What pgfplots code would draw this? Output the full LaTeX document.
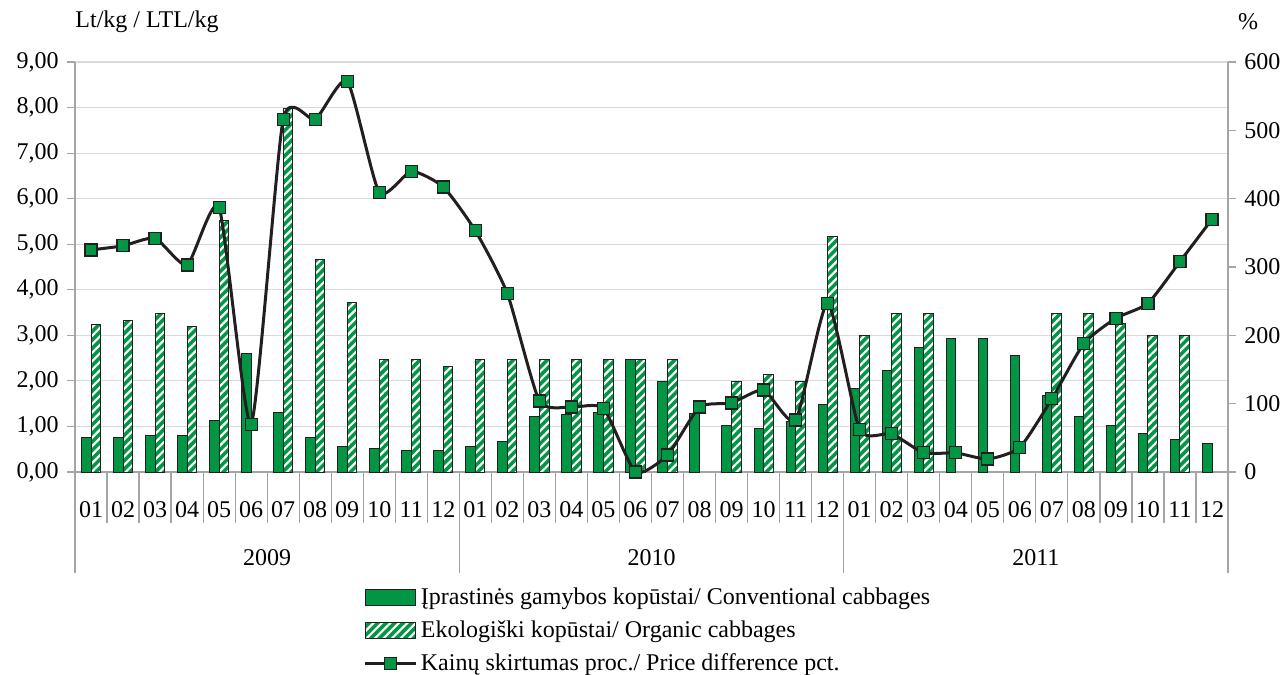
\documentclass[12pt,border=0pt]{standalone}
\usepackage{fontspec}
\setmainfont{Liberation Serif}
\usepackage{pgfplots}
\pgfplotsset{compat=1.18}
\usetikzlibrary{patterns.meta}

\definecolor{cgreen}{RGB}{0,150,68}
\definecolor{cdark}{RGB}{35,31,32}
\definecolor{caxis}{RGB}{165,165,165}
\definecolor{cgrid}{RGB}{217,217,217}

\pgfplotsset{
  barlegend/.style={legend image code/.code={\draw[##1] (0pt,-4pt) rectangle (25pt,4pt);}},
  linelegend/.style={legend image code/.code={\draw[##1,mark repeat=2,mark phase=2] plot coordinates {(0pt,0pt) (12.5pt,0pt) (25pt,0pt)};}},
  stripes/.style={fill=cgreen, draw=cdark, line width=0.5pt,
    postaction={pattern={Lines[angle=45,distance=3pt,line width=1.1pt]}, pattern color=white}},
  common/.style={at={(37.5pt,101pt)}, anchor=south west, scale only axis,
    width=576.5pt, height=205pt, xmin=-0.5, xmax=35.5,
    axis line style={caxis, line width=0.6pt},
    tick align=outside, major tick length=4pt,
    yticklabel style={/pgf/number format/assume math mode=true}},
}

% conventional cabbages, Lt/kg
\pgfplotstableread{
x y
0 0.76
1 0.76
2 0.80
3 0.80
4 1.14
5 2.61
6 1.31
7 0.76
8 0.55
9 0.51
10 0.47
11 0.47
12 0.55
13 0.67
14 1.22
15 1.27
16 1.31
17 2.48
18 1.99
19 1.28
20 1.02
21 0.96
22 1.10
23 1.48
24 1.84
25 2.23
26 2.73
27 2.94
28 2.94
29 2.56
30 1.68
31 1.22
32 1.02
33 0.84
34 0.72
35 0.63
}\conv

% organic cabbages, Lt/kg
\pgfplotstableread{
x y
0 3.24
1 3.32
2 3.49
3 3.20
4 5.51
6 7.98
7 4.67
8 3.71
9 2.48
10 2.48
11 2.32
12 2.48
13 2.48
14 2.48
15 2.48
16 2.48
17 2.48
18 2.48
20 1.98
21 2.15
22 1.98
23 5.16
24 2.99
25 3.48
26 3.48
30 3.48
31 3.48
32 3.27
33 2.99
34 2.99
}\org

% price difference, pct.
\pgfplotstableread{
x y
0 325
1 331
2 342
3 303
4 387
5 70
6 516
7 516
8 572
9 409
10 440
11 417
12 353
13 261
14 104
15 95
16 93
17 0
18 25
19 95
20 101
21 120
22 76
23 247
24 62
25 56
26 28
27 28
28 19
29 36
30 107
31 188
32 225
33 247
34 308
35 370
}\diff

\begin{document}
\begin{tikzpicture}
\useasboundingbox (0,0) rectangle (644pt,337pt);

\begin{axis}[common,
  clip mode=individual,
  ymin=0, ymax=9,
  ybar=0pt, bar width=4.8pt,
  axis x line*=bottom, axis y line*=left,
  ytick={0,1,...,9},
  ymajorgrids, grid style={cgrid, line width=0.6pt},
  y tick style={caxis, line width=0.6pt},
  yticklabel style={/pgf/number format/.cd, fixed, fixed zerofill, precision=2, use comma, /tikz/.cd},
  xtick={0,...,35},
  xticklabels={01,02,03,04,05,06,07,08,09,10,11,12,01,02,03,04,05,06,07,08,09,10,11,12,01,02,03,04,05,06,07,08,09,10,11,12},
  major x tick style={draw=none},
  minor xtick={-0.5,0.5,...,35.5},
  minor tick length=25.5pt,
  minor x tick style={draw=caxis, line width=0.6pt},
  xticklabel style={anchor=center, yshift=-15pt},
  extra x ticks={-0.5,11.5,23.5,35.5},
  extra x tick labels={},
  extra x tick style={major tick length=50.5pt, major x tick style={draw=caxis, line width=0.6pt}, grid=none},
]
\addplot[fill=cgreen, draw=cdark, line width=0.5pt] table {\conv};
\addplot[stripes] table {\org};
\node at (axis cs:5.5,0) [yshift=-43pt] {2009};
\node at (axis cs:17.5,0) [yshift=-43pt] {2010};
\node at (axis cs:29.5,0) [yshift=-43pt] {2011};
\node at (rel axis cs:0,1) [xshift=36pt, yshift=20pt] {Lt/kg / LTL/kg};
\node at (rel axis cs:1,1) [xshift=10pt, yshift=20pt] {\%};
\end{axis}

\begin{axis}[common,
  ymin=0, ymax=600,
  axis x line=none, axis y line*=right,
  ytick={0,100,...,600},
  y tick style={caxis, line width=0.6pt},
  clip=false,
  legend cell align=left,
  legend style={draw=none, fill=none, at={(0.245,-0.262)}, anchor=north west, row sep=2.3pt},
]
\addlegendimage{barlegend, fill=cgreen, draw=cdark, line width=0.5pt}
\addlegendentry{Įprastinės gamybos kopūstai/ Conventional cabbages}
\addlegendimage{barlegend, stripes}
\addlegendentry{Ekologiški kopūstai/ Organic cabbages}
\addplot[linelegend, cdark, line width=1.5pt, smooth, tension=0.35,
  mark=square*, mark size=3pt, mark options={fill=cgreen, draw=cdark, line width=0.6pt}]
  table {\diff};
\addlegendentry{Kainų skirtumas proc./ Price difference pct.}
\end{axis}
\end{tikzpicture}
\end{document}
